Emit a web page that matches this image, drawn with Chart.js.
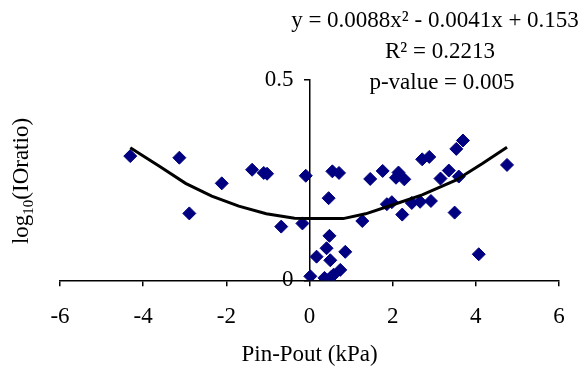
<!DOCTYPE html>
<html>
<head>
<meta charset="utf-8">
<script src="https://cdn.jsdelivr.net/npm/chart.js@4"></script>
<style>
  body { margin: 0; background: #fff; }
  canvas { display: block; }
</style>
</head>
<body>
<canvas id="chart" width="585" height="372"></canvas>
<script>
// data
var xValues = [-4.31, -3.13, -2.89, -2.11, -1.38, -1.10, -1.02, -0.68, -0.17, -0.09,
  0.02, 0.17, 0.41, 0.48, 0.50, 0.36, 0.46, 0.52, 0.58, 0.74,
  0.86, 0.46, 0.55, 0.71, 1.27, 1.46, 1.76, 1.86, 1.98, 2.08,
  2.14, 2.28, 2.23, 2.46, 2.66, 2.71, 2.88, 2.92, 3.15, 3.35,
  3.49, 3.59, 3.53, 3.69, 4.07, 4.75];
var yValues = [0.310, 0.306, 0.167, 0.242, 0.276, 0.268, 0.266, 0.134, 0.142, 0.261,
  0.010, 0.059, 0.080, 0.111, 0.050, 0.006, 0.002, 0.008, 0.014, 0.026,
  0.071, 0.205, 0.272, 0.268, 0.148, 0.253, 0.273, 0.190, 0.195, 0.256,
  0.269, 0.252, 0.164, 0.193, 0.196, 0.302, 0.308, 0.198, 0.254, 0.274,
  0.169, 0.259, 0.328, 0.349, 0.065, 0.288];

// trendline as it is drawn
var trendX = [-4.31, -3.6, -2.98, -2.35, -1.7, -1.04, -0.36, 0, 0.81, 1.35, 1.99, 2.71, 3.52, 4.15, 4.75];
var trendY = [0.331, 0.284, 0.242, 0.210, 0.185, 0.166, 0.155, 0.154, 0.154, 0.166, 0.188, 0.213, 0.250, 0.291, 0.332];

var xTicks = [-6, -4, -2, 0, 2, 4, 6];
var yTicks = [0, 0.5];

var fitLines = ['y = 0.0088x\u00B2 - 0.0041x + 0.153', 'R\u00B2 = 0.2213', 'p-value = 0.005'];
var xTitle = 'Pin-Pout (kPa)';

var font = { family: '"Liberation Serif", "Times New Roman", serif', size: 23 };
var fontStr = '23px "Liberation Serif", "Times New Roman", serif';

var points = xValues.map(function(x, i) { return { x: x, y: yValues[i] }; });
var trend = trendX.map(function(x, i) { return { x: x, y: trendY[i] }; });

// text that sits over the plot (fit equation and y title)
var extraText = {
  id: 'extraText',
  afterDraw: function(chart) {
    var ctx = chart.ctx;
    ctx.save();
    ctx.fillStyle = '#000';
    ctx.font = fontStr;
    ctx.textAlign = 'center';
    ctx.textBaseline = 'middle';
    ctx.fillText(fitLines[0], 435, 21);
    ctx.fillText(fitLines[1], 440, 52);
    ctx.fillText(fitLines[2], 442, 83);

    // y title with subscript, rotated
    ctx.translate(21, 181);
    ctx.rotate(-Math.PI / 2);
    ctx.textAlign = 'left';
    ctx.textBaseline = 'alphabetic';
    var smallFont = '15px "Liberation Serif", "Times New Roman", serif';
    ctx.font = fontStr;
    var w1 = ctx.measureText('log').width;
    var w3 = ctx.measureText('(IOratio)').width;
    ctx.font = smallFont;
    var w2 = ctx.measureText('10').width;
    var start = -(w1 + w2 + w3) / 2;
    ctx.font = fontStr;
    ctx.fillText('log', start, 7);
    ctx.font = smallFont;
    ctx.fillText('10', start + w1, 12);
    ctx.font = fontStr;
    ctx.fillText('(IOratio)', start + w1 + w2, 7);
    ctx.restore();
  }
};

var ctx = document.getElementById('chart').getContext('2d');
var myChart = new Chart(ctx, {
  type: 'scatter',
  data: {
    datasets: [
      {
        type: 'line',
        data: trend,
        borderColor: '#000',
        borderWidth: 3,
        pointRadius: 0,
        fill: false,
        tension: 0
      },
      {
        data: points,
        pointStyle: 'rectRot',
        pointRadius: 6.5,
        backgroundColor: '#000080',
        borderColor: '#000080',
        borderWidth: 1
      }
    ]
  },
  options: {
    responsive: false,
    animation: false,
    layout: { padding: { top: 80, left: 60, right: 26, bottom: 3 } },
    plugins: {
      legend: { display: false },
      tooltip: { enabled: false }
    },
    scales: {
      x: {
        type: 'linear',
        position: 'bottom',
        min: -6,
        max: 6,
        afterBuildTicks: function(s) { s.ticks = xTicks.map(function(v) { return { value: v }; }); },
        ticks: { color: '#000', font: font, padding: 17, maxRotation: 0 },
        grid: { drawOnChartArea: false, drawTicks: true, tickLength: 6, color: '#000', lineWidth: 1.5 },
        border: { display: true, color: '#000', width: 1.5 },
        title: { display: true, text: xTitle, color: '#000', font: font, padding: { top: -6.5, bottom: 0 } }
      },
      y: {
        type: 'linear',
        position: { x: 0 },
        min: 0,
        max: 0.5,
        afterBuildTicks: function(s) { s.ticks = yTicks.map(function(v) { return { value: v }; }); },
        ticks: {
          color: '#000',
          font: font,
          // the labels sit a little away from the axis
          callback: function(v) { return v + '  \u2009'; }
        },
        grid: { drawOnChartArea: false, drawTicks: true, tickLength: 5, color: '#000', lineWidth: 1.5 },
        border: { display: true, color: '#000', width: 1.5 }
      }
    }
  },
  plugins: [extraText]
});
</script>
</body>
</html>
